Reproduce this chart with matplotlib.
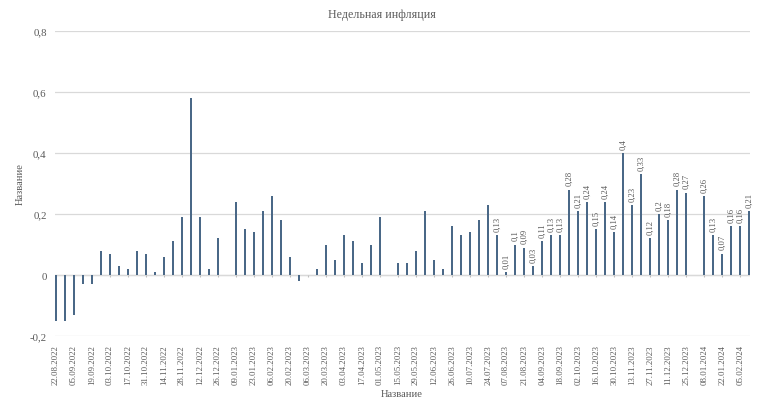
import datetime as dt

import matplotlib
matplotlib.use("Agg")
import matplotlib.pyplot as plt
import numpy as np
from matplotlib.ticker import FuncFormatter

# weekly inflation, % (None = no value for that week)
start = dt.date(2022, 8, 22)
values = [
    -0.15, -0.15, -0.13, -0.03, -0.03, 0.08, 0.07, 0.03, 0.02, 0.08,
    0.07, 0.01, 0.06, 0.11, 0.19, 0.58, 0.19, 0.02, 0.12, None,
    0.24, 0.15, 0.14, 0.21, 0.26, 0.18, 0.06, -0.02, None, 0.02,
    0.10, 0.05, 0.13, 0.11, 0.04, 0.10, 0.19, None, 0.04, 0.04,
    0.08, 0.21, 0.05, 0.02, 0.16, 0.13, 0.14, 0.18, 0.23, 0.13,
    0.01, 0.10, 0.09, 0.03, 0.11, 0.13, 0.13, 0.28, 0.21, 0.24,
    0.15, 0.24, 0.14, 0.40, 0.23, 0.33, 0.12, 0.20, 0.18, 0.28,
    0.27, None, 0.26, 0.13, 0.07, 0.16, 0.16, 0.21,
]
dates = [(start + dt.timedelta(weeks=i)).strftime("%d.%m.%Y") for i in range(len(values))]
first_labeled = 49  # data labels shown from 31.07.2023 on

gray = "#595959"
bar_color = "#4a6887"
serif = ["Liberation Serif", "DejaVu Serif"]

vals = np.array([np.nan if v is None else v for v in values])
x = np.arange(len(vals))

fig = plt.figure(figsize=(7.58, 4.10), dpi=100)
ax = fig.add_axes([0.0726, 0.178, 0.917, 0.744])

ax.bar(x, np.nan_to_num(vals), width=0.22, color=bar_color, zorder=3)

for i in range(first_labeled, len(vals)):
    if np.isnan(vals[i]):
        continue
    txt = f"{vals[i]:g}".replace(".", ",")
    ax.annotate(txt, (x[i], vals[i]), xytext=(0, 3), textcoords="offset points",
                rotation=90, ha="center", va="bottom", fontsize=6.2,
                color=gray, family=serif)

# small tick marks on the zero line
ax.vlines(x[::2], -0.008, 0, color="#bfbfbf", lw=0.8, zorder=2)

ax.set_ylim(-0.2, 0.8)
ax.set_xlim(-0.1, len(vals) - 0.9)
ax.set_yticks(np.arange(-0.2, 0.81, 0.2))
ax.yaxis.set_major_formatter(FuncFormatter(
    lambda v, p: "0" if abs(v) < 1e-9 else f"{v:.1f}".replace(".", ",")))
ax.set_xticks(x[::2])
ax.set_xticklabels(dates[::2], rotation=90, fontsize=6.3, color=gray, family=serif)
for lab in ax.get_yticklabels():
    lab.set_family(serif)
ax.tick_params(axis="y", length=0, pad=6, labelsize=7.8, labelcolor=gray)
ax.tick_params(axis="x", length=0, pad=6)

ax.grid(axis="y", color="#d9d9d9", lw=0.9, zorder=0)
ax.axhline(0, color="#d0d0d0", lw=0.9, zorder=1)
for s in ax.spines.values():
    s.set_visible(False)

fig.text(382 / 758, 1 - 15 / 410, "Недельная инфляция", fontsize=8.6,
         color=gray, family=serif, ha="center", va="center")
fig.text(402 / 758, 1 - 395 / 410, "Название", fontsize=7.6,
         color=gray, family=serif, ha="center", va="center")
fig.text(20 / 758, 1 - 184 / 410, "Название", fontsize=7.6, rotation=90,
         color=gray, family=serif, ha="center", va="center")

fig.savefig("out.png", dpi=100)
